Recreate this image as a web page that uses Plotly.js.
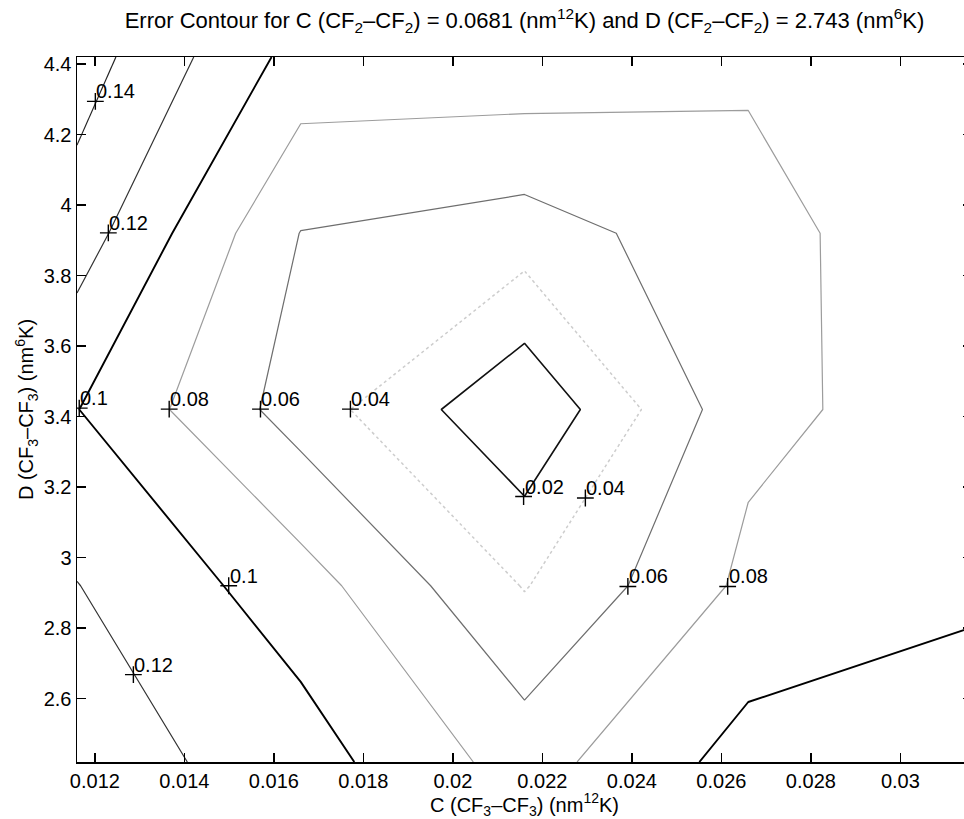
<!DOCTYPE html>
<html>
<head>
<meta charset="utf-8">
<script src="https://cdn.plot.ly/plotly-3.0.1.min.js"></script>
<style>
html,body{margin:0;padding:0;overflow:hidden;background:#fff;}
#chart{width:982px;height:819px;}
</style>
</head>
<body>
<div id="chart"></div>
<script>
// Grid of parameter values (C along x, D along y)
const cValues = [0.0116, 0.0166, 0.0216, 0.0266, 0.0316];
const dValues = [2.42, 2.92, 3.42, 3.92, 4.42];
// Error values, one row per D value (bottom to top)
const errRow242 = [0.1307, 0.1090, 0.0714, 0.1080, 0.1130];
const errRow292 = [0.1205, 0.0892, 0.0389, 0.0845, 0.0960];
const errRow342 = [0.1005, 0.0509, 0.0017, 0.0750, 0.0900];
const errRow392 = [0.1300, 0.0595, 0.0504, 0.0738, 0.0931];
const errRow442 = [0.1500, 0.0925, 0.0940, 0.0827, 0.0980];
const errGrid = [errRow242, errRow292, errRow342, errRow392, errRow442];

// Contour levels
const levels = [0.02, 0.04, 0.06, 0.08, 0.10, 0.12, 0.14];

// Contour label positions (clabel "+" marks)
const labelC = [0.01201, 0.01230, 0.01165, 0.01366, 0.01570, 0.01771, 0.02158, 0.02296, 0.02391, 0.02614, 0.01499, 0.01286];
const labelD = [4.294, 3.921, 3.424, 3.421, 3.421, 3.421, 3.173, 3.169, 2.918, 2.918, 2.920, 2.668];
const labelText = ['0.14', '0.12', '0.1', '0.08', '0.06', '0.04', '0.02', '0.04', '0.06', '0.08', '0.1', '0.12'];

const xTickVals = [0.012, 0.014, 0.016, 0.018, 0.02, 0.022, 0.024, 0.026, 0.028, 0.03];
const xTickText = ['0.012', '0.014', '0.016', '0.018', '0.02', '0.022', '0.024', '0.026', '0.028', '0.03'];
const yTickVals = [2.6, 2.8, 3, 3.2, 3.4, 3.6, 3.8, 4, 4.2, 4.4];
const yTickText = ['2.6', '2.8', '3', '3.2', '3.4', '3.6', '3.8', '4', '4.2', '4.4'];

// Styles per level
const levelStyle = {
  '0.02': {color: '#111111', width: 1.6, dash: 'solid'},
  '0.04': {color: '#cdcdcd', width: 1.5, dash: 'dot'},
  '0.06': {color: '#6e6e6e', width: 1.2, dash: 'solid'},
  '0.08': {color: '#9c9c9c', width: 1.2, dash: 'solid'},
  '0.1':  {color: '#000000', width: 1.9, dash: 'solid'},
  '0.12': {color: '#333333', width: 1.2, dash: 'solid'},
  '0.14': {color: '#222222', width: 1.2, dash: 'solid'}
};

const FONT = 'Liberation Sans, Arial, Helvetica, sans-serif';

const traces = levels.map(function (lv) {
  const st = levelStyle[String(+lv.toFixed(2))];
  return {
    type: 'contour',
    x: cValues,
    y: dValues,
    z: errGrid,
    autocontour: false,
    contours: {coloring: 'none', start: lv, end: lv, size: 0.02, showlabels: false},
    line: {color: st.color, width: st.width, dash: st.dash, smoothing: 0},
    showscale: false,
    hoverinfo: 'skip'
  };
});

traces.push({
  type: 'scatter',
  mode: 'markers',
  x: labelC,
  y: labelD,
  marker: {symbol: 'cross-thin', size: 12, line: {color: '#000', width: 1.4}, color: '#000'},
  hoverinfo: 'skip',
  showlegend: false
});

const labelAnnotations = labelText.map(function (t, k) {
  return {
    x: labelC[k], y: labelD[k], xref: 'x', yref: 'y',
    text: t, showarrow: false,
    xanchor: 'left', yanchor: 'bottom',
    xshift: -1, yshift: -3,
    font: {family: FONT, size: 20, color: '#000'}
  };
});

const axisCommon = {
  showgrid: false,
  zeroline: false,
  showline: true,
  linecolor: '#000',
  linewidth: 1.5,
  mirror: 'ticks',
  ticks: 'inside',
  ticklen: 9,
  tickwidth: 1.3,
  tickcolor: '#000',
  tickfont: {family: FONT, size: 20, color: '#000'},
  tickmode: 'array'
};

const layout = {
  width: 982,
  height: 819,
  margin: {l: 77, r: 10, t: 57, b: 57, pad: 0},
  paper_bgcolor: '#fff',
  plot_bgcolor: '#fff',
  showlegend: false,
  title: {
    text: 'Error Contour for C (CF<sub>2</sub>–CF<sub>2</sub>) = 0.0681 (nm<sup>12</sup>K) and D (CF<sub>2</sub>–CF<sub>2</sub>) = 2.743 (nm<sup>6</sup>K)',
    font: {family: FONT, size: 22, color: '#000'},
    x: 0.5, xref: 'paper', xanchor: 'center',
    y: 0.975, yref: 'container', yanchor: 'middle'
  },
  annotations: labelAnnotations,
  xaxis: Object.assign({}, axisCommon, {
    range: [0.0116, 0.0316],
    tickvals: xTickVals,
    ticktext: xTickText,
    title: {text: 'C (CF<sub>3</sub>–CF<sub>3</sub>) (nm<sup>12</sup>K)', font: {family: FONT, size: 20, color: '#000'}, standoff: 0}
  }),
  yaxis: Object.assign({}, axisCommon, {
    range: [2.42, 4.42],
    tickvals: yTickVals,
    ticktext: yTickText,
    title: {text: 'D (CF<sub>3</sub>–CF<sub>3</sub>) (nm<sup>6</sup>K)', font: {family: FONT, size: 20, color: '#000'}, standoff: 4}
  })
};

Plotly.newPlot('chart', traces, layout, {displayModeBar: false, staticPlot: true});
</script>
</body>
</html>
